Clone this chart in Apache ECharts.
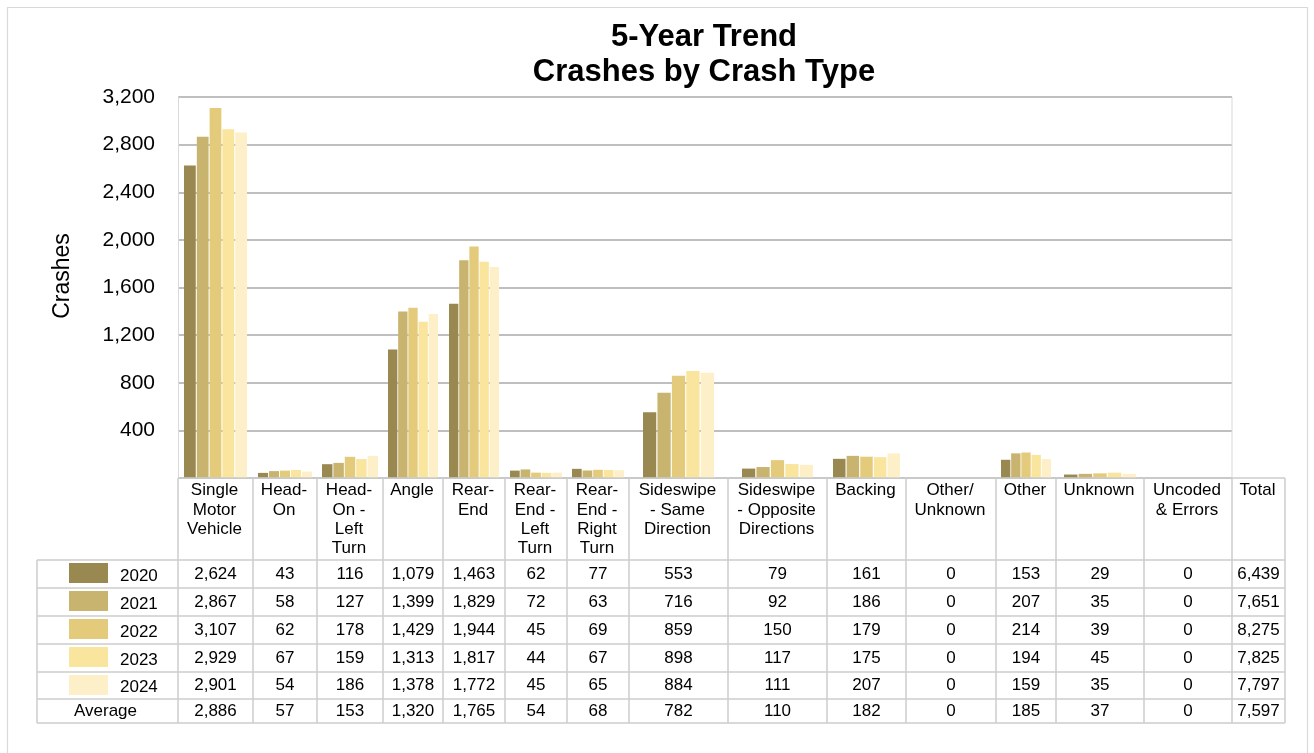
<!DOCTYPE html>
<html>
<head>
<meta charset="utf-8">
<script src="https://cdn.jsdelivr.net/npm/echarts@6/dist/echarts.min.js"></script>
<style>
html,body{margin:0;padding:0;background:#ffffff;}
#chart{width:1314px;height:753px;}
</style>
</head>
<body>
<div id="chart"></div>
<script>
// ---------------- data ----------------
const categories = [
  'Single\nMotor\nVehicle', 'Head-\nOn', 'Head-\nOn -\nLeft\nTurn', 'Angle', 'Rear-\nEnd',
  'Rear-\nEnd -\nLeft\nTurn', 'Rear-\nEnd -\nRight\nTurn', 'Sideswipe\n- Same\nDirection',
  'Sideswipe\n- Opposite\nDirections', 'Backing', 'Other/\nUnknown', 'Other', 'Unknown', 'Uncoded\n& Errors'
];
const totalLabel = 'Total';
const years = ['2020', '2021', '2022', '2023', '2024'];
const v2020 = [2624, 43, 116, 1079, 1463, 62, 77, 553, 79, 161, 0, 153, 29, 0];
const v2021 = [2867, 58, 127, 1399, 1829, 72, 63, 716, 92, 186, 0, 207, 35, 0];
const v2022 = [3107, 62, 178, 1429, 1944, 45, 69, 859, 150, 179, 0, 214, 39, 0];
const v2023 = [2929, 67, 159, 1313, 1817, 44, 67, 898, 117, 175, 0, 194, 45, 0];
const v2024 = [2901, 54, 186, 1378, 1772, 45, 65, 884, 111, 207, 0, 159, 35, 0];
const averageLabel = 'Average';
const averages = [2886, 57, 153, 1320, 1765, 54, 68, 782, 110, 182, 0, 185, 37, 0];
const yearTotals = [6439, 7651, 8275, 7825, 7797];
const averageTotal = 7597;
const yMin = 0, yMax = 3200, yStep = 400;
const titleLines = ['5-Year Trend', 'Crashes by Crash Type'];
const yAxisTitle = 'Crashes';

// ---------------- style / layout ----------------
const yearValues = [v2020, v2021, v2022, v2023, v2024];
const colors = ['#9A8851', '#C8B46E', '#E4CB7B', '#F9E59D', '#FDF0C8'];
const FONT = '"Liberation Sans", Arial, sans-serif';
const plotLeft = 178, plotTop = 97, plotBottom = 478;
const colWidths = [75, 64, 66, 60, 62, 62, 62, 99, 99, 79, 90, 60, 88, 88];
const colPads = [6, 5, 5, 5, 6, 5, 5, 14, 14, 6, 6, 5, 8, 6];
const totalColWidth = 53;
const rowHeadLeft = 37;
const rowEdges = [560, 588, 616, 644, 672, 699, 723];
const gridColor = '#CDCDCD';

const colEdges = [plotLeft];
colWidths.forEach(w => colEdges.push(colEdges[colEdges.length - 1] + w));
const plotRight = colEdges[colEdges.length - 1];
const tableRight = plotRight + totalColWidth;
const fmt = v => v.toLocaleString('en-US');

// ---------------- grids / axes / series ----------------
const grid = [{ left: plotLeft, top: plotTop, width: plotRight - plotLeft, height: plotBottom - plotTop }];
const xAxis = [{ gridIndex: 0, type: 'category', data: categories, show: false }];
const yAxis = [{
  gridIndex: 0, type: 'value', min: yMin, max: yMax, interval: yStep,
  axisLine: { show: true, lineStyle: { color: '#D9D9D9', width: 1 } },
  axisTick: { show: false },
  axisLabel: { fontSize: 21, color: '#000', fontFamily: FONT, margin: 23,
    formatter: v => (v === 0 ? '' : fmt(v)) },
  splitLine: { show: true, lineStyle: { color: '#BFBFBF', width: 2 } }
}];
const series = [];
categories.forEach((cat, i) => {
  const gi = i + 1;
  grid.push({ left: colEdges[i], top: plotTop, width: colWidths[i], height: plotBottom - plotTop });
  xAxis.push({ gridIndex: gi, type: 'category', data: [cat], show: false });
  yAxis.push({ gridIndex: gi, type: 'value', min: yMin, max: yMax, show: false });
  years.forEach((yr, k) => {
    series.push({
      type: 'bar', name: yr, xAxisIndex: gi, yAxisIndex: gi,
      data: [yearValues[k][i]],
      itemStyle: { color: colors[k] },
      barGap: '9%',
      barCategoryGap: (2 * colPads[i] / colWidths[i] * 100) + '%',
      emphasis: { disabled: true }
    });
  });
});

// ---------------- graphics: title, axis title, data table ----------------
const g = [];
const Z = 50;
function line(x1, y1, x2, y2, color, w) {
  g.push({ type: 'line', z: Z, silent: true, shape: { x1, y1, x2, y2 },
    style: { stroke: color || gridColor, lineWidth: w || 1.5 } });
}
function text(t, x, y, opts) {
  g.push({ type: 'text', z: Z + 1, silent: true, x, y, rotation: (opts && opts.rotation) || 0,
    style: Object.assign({ text: t, fill: '#000', fontSize: 17, fontFamily: FONT,
      align: 'center', verticalAlign: 'middle' }, opts && opts.style) });
}
// outer border
g.push({ type: 'rect', z: 0, silent: true, shape: { x: 7.5, y: 7.5, width: 1300, height: 800 },
  style: { fill: 'none', stroke: '#D9D9D9', lineWidth: 1.2 } });
// title
text(titleLines[0], 704, 37, { style: { fontSize: 31, fontWeight: 'bold' } });
text(titleLines[1], 704, 72, { style: { fontSize: 31, fontWeight: 'bold' } });
// y axis title
text(yAxisTitle, 63, 276, { rotation: Math.PI / 2, style: { fontSize: 23 } });
// plot right border
line(plotRight, plotTop, plotRight, plotBottom, '#D9D9D9', 1);
// table horizontal lines
line(plotLeft, plotBottom, tableRight, plotBottom);
rowEdges.forEach(y => line(rowHeadLeft, y, tableRight, y));
// table vertical lines
colEdges.forEach(x => line(x, plotBottom, x, rowEdges[rowEdges.length - 1]));
line(tableRight, plotBottom, tableRight, rowEdges[rowEdges.length - 1]);
line(rowHeadLeft, rowEdges[0], rowHeadLeft, rowEdges[rowEdges.length - 1]);
// header labels
const headTop = 481;
categories.forEach((cat, i) => {
  text(cat, colEdges[i] + colWidths[i] / 2 - 1, headTop, { style: { verticalAlign: 'top', lineHeight: 19.3 } });
});
text(totalLabel, plotRight + totalColWidth / 2 - 1, headTop, { style: { verticalAlign: 'top', lineHeight: 19.3 } });
// rows for years
years.forEach((yr, k) => {
  const top = rowEdges[k], bot = rowEdges[k + 1], mid = (top + bot) / 2;
  g.push({ type: 'rect', z: Z, silent: true, shape: { x: 69, y: top + 3, width: 39, height: 20 },
    style: { fill: colors[k] } });
  text(yr, 120, mid + 2, { style: { align: 'left' } });
  yearValues[k].forEach((v, i) => text(fmt(v), colEdges[i] + colWidths[i] / 2, mid));
  text(fmt(yearTotals[k]), plotRight + totalColWidth / 2, mid);
});
// average row
{
  const k = years.length;
  const top = rowEdges[k], bot = rowEdges[k + 1], mid = (top + bot) / 2;
  text(averageLabel, (rowHeadLeft + plotLeft) / 2 - 2, mid);
  averages.forEach((v, i) => text(fmt(v), colEdges[i] + colWidths[i] / 2, mid));
  text(fmt(averageTotal), plotRight + totalColWidth / 2, mid);
}

const chart = echarts.init(document.getElementById('chart'), null, { renderer: 'canvas' });
chart.setOption({
  animation: false,
  backgroundColor: '#ffffff',
  textStyle: { fontFamily: FONT },
  grid, xAxis, yAxis, series,
  graphic: { elements: g }
});
</script>
</body>
</html>
